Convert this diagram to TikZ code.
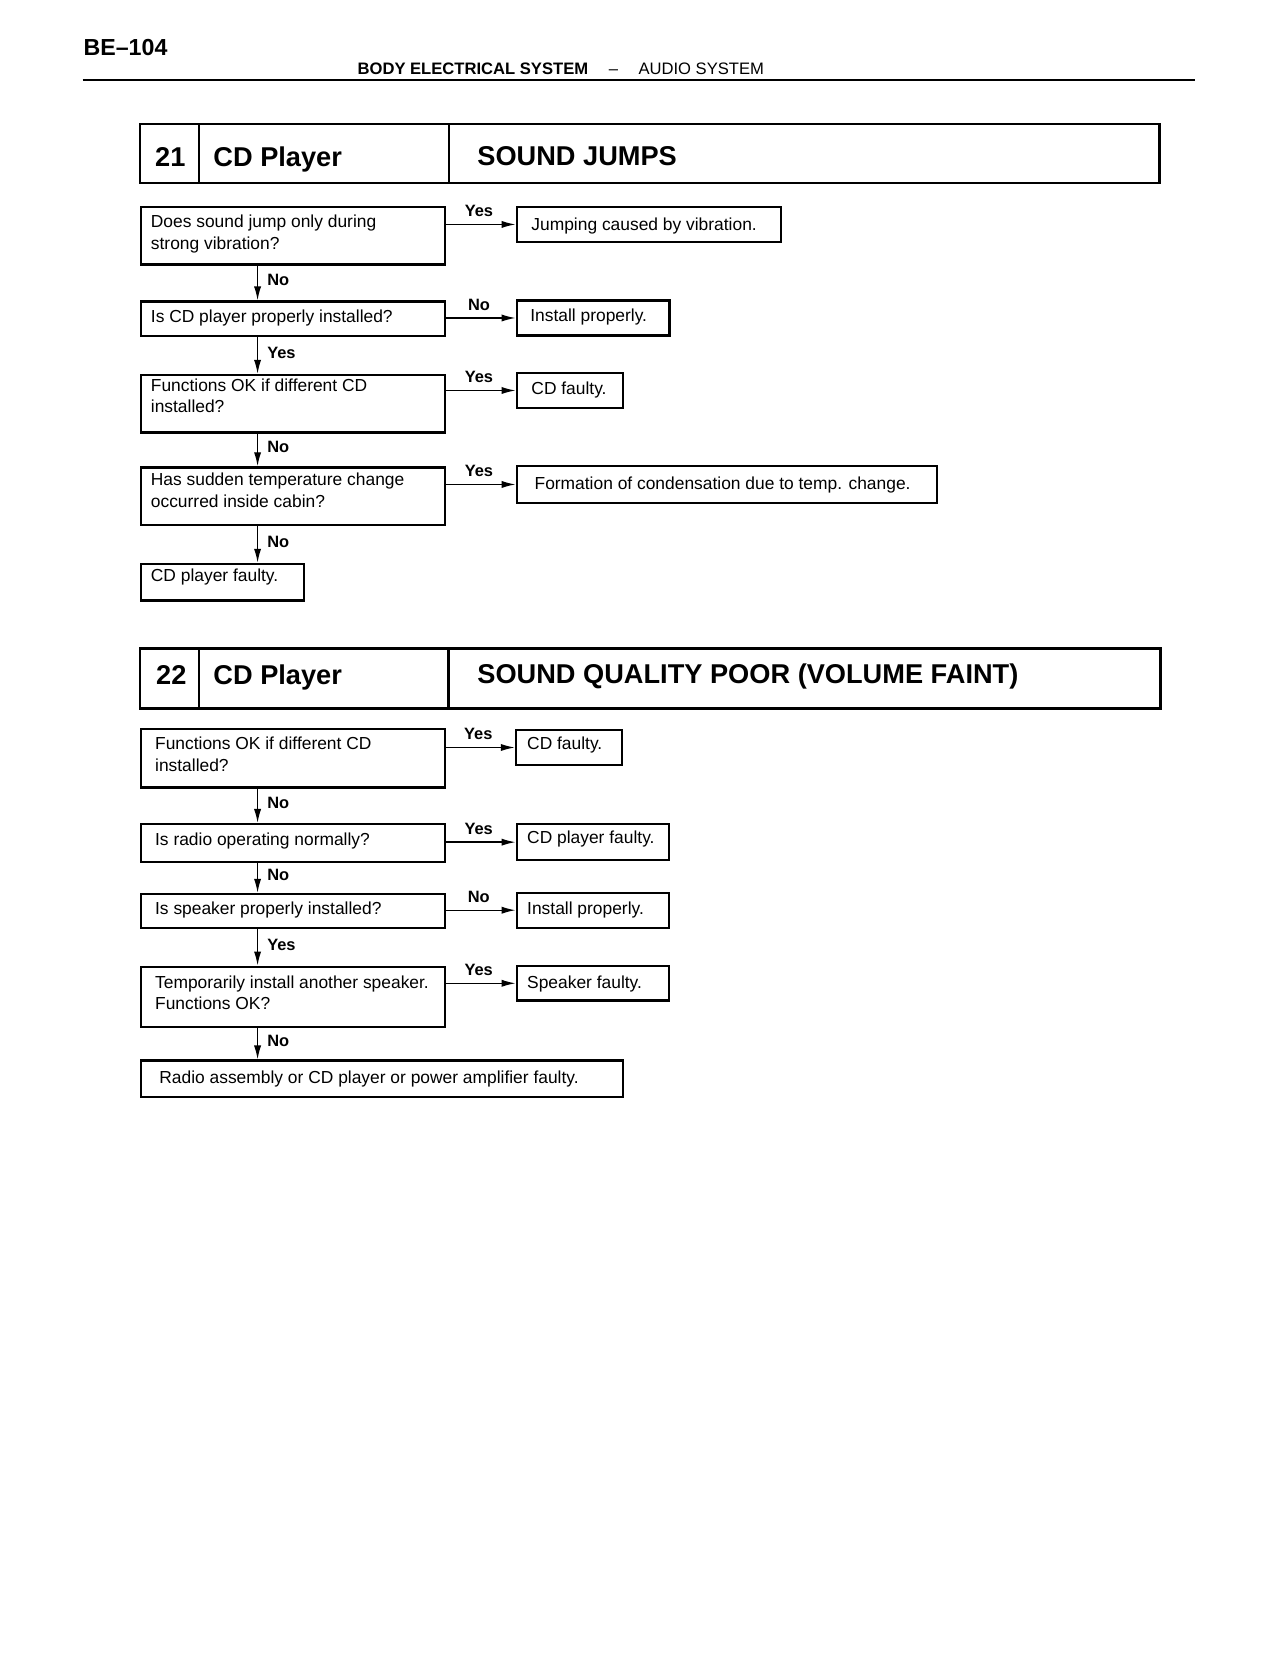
\documentclass[tikz,border=0pt]{standalone}
\usepackage{fontspec}
\setmainfont{Liberation Sans}
\usetikzlibrary{arrows.meta,fit}
\begin{document}
\begin{tikzpicture}[x=0.53pt,y=-0.53pt,
  box/.style={draw, line width=1.15pt, inner sep=0pt},
  tbox/.style={draw, line width=1.25pt, inner sep=0pt},
  txt/.style={font=\fontsize{8.7}{11}\selectfont, inner sep=0pt, anchor=base west},
  ttl/.style={font=\bfseries\fontsize{13.6}{16}\selectfont, inner sep=0pt, anchor=base west},
  hdr/.style={font=\fontsize{8.3}{10}\selectfont, inner sep=0pt, anchor=base west},
  lbl/.style={font=\bfseries\fontsize{8.2}{10}\selectfont, inner sep=1.5pt},
  arr/.style={line width=0.7pt, -{Latex[length=7pt,width=3.6pt]}},
  vlbl/.style={lbl, midway, right, xshift=3pt, yshift=1.5pt},
  hlbl/.style={lbl, midway, above, yshift=2pt, xshift=-1pt},
]
\useasboundingbox (0,0) rectangle (1207.5,1562.3);
% header
\node[font=\bfseries\fontsize{11.6}{14}\selectfont, inner sep=0pt, anchor=base west] (pg) at (78.5,52.8) {BE–104};
\node[hdr, font=\bfseries\fontsize{8.3}{10}\selectfont] (sys) at (337,70.5) {BODY ELECTRICAL SYSTEM};
\node[hdr] (dsh) at (574,70.5) {–};
\node[hdr] (sub) at (602,70.5) {AUDIO SYSTEM};
\coordinate (hl) at (78,75.5);
\coordinate (hr) at (1127,75.5);
\draw[line width=1pt] (hl) -- (hr);

% ===== 21 =====
\node[tbox, fit={(132,117) (1094,172.5)}] (t21) {};
\draw[line width=1.2pt] (188,117) -- (188,172.5);
\draw[line width=1.2pt] (423.5,117) -- (423.5,172.5);
\node[ttl] (t21n) at (146,157.5) {21};
\node[ttl] (t21a) at (201,157.2) {CD Player};
\node[ttl] (t21b) at (450,155.7) {SOUND JUMPS};

\coordinate (colA) at (243,0);

\node[box, fit={(133,195.5) (420,249.5)}] (a1) {};
\node[txt] at (142,214.4) {Does sound jump only during};
\node[txt] at (142,235.3) {strong vibration?};
\node[box, fit={(487.5,195) (737,228.5)}] (ra1) {};
\node[txt] at (501,217) {Jumping caused by vibration.};

\node[box, fit={(133,284.5) (420,317)}] (a2) {};
\node[txt] at (142,304.4) {Is CD player properly installed?};
\node[box, fit={(487.5,283.5) (631.5,316.5)}] (ra2) {};
\node[txt] at (500,303.5) {Install properly.};

\node[box, fit={(133,353.8) (420,408)}] (a3) {};
\node[txt] at (142,368.9) {Functions OK if different CD};
\node[txt] at (142,389.3) {installed?};
\node[box, fit={(487.5,351.6) (587.5,385.2)}] (ra3) {};
\node[txt] at (501,372.6) {CD faulty.};

\node[box, fit={(133,441) (420,495.5)}] (a4) {};
\node[txt] at (142,458.2) {Has sudden temperature change};
\node[txt] at (142,478.6) {occurred inside cabin?};
\node[box, fit={(487.5,439.6) (884,474.5)}] (ra4) {};
\node[txt] at (504,461.6) {Formation of condensation due to temp. change.};

\node[box, fit={(133,532) (286.5,566.5)}] (a5) {};
\node[txt] at (142,548.8) {CD player faulty.};

\draw[arr] (a1.east |- ra1.west) -- node[hlbl]{Yes} (ra1.west);
\draw[arr] (a2.east |- ra2.west) -- node[hlbl]{No} (ra2.west);
\draw[arr] (a3.east |- ra3.west) -- node[hlbl]{Yes} (ra3.west);
\draw[arr] (a4.east |- ra4.west) -- node[hlbl]{Yes} (ra4.west);
\draw[arr] (a1.south -| colA) -- node[vlbl]{No} (a2.north -| colA);
\draw[arr] (a2.south -| colA) -- node[vlbl]{Yes} (a3.north -| colA);
\draw[arr] (a3.south -| colA) -- node[vlbl]{No} (a4.north -| colA);
\draw[arr] (a4.south -| colA) -- node[vlbl]{No} (a5.north -| colA);

% ===== 22 =====
\node[tbox, fit={(132,611.6) (1095,668.2)}] (t22) {};
\draw[line width=1.2pt] (187.7,611.6) -- (187.7,668.2);
\draw[line width=1.2pt] (423,611.6) -- (423,668.2);
\node[ttl] (t22n) at (147,646) {22};
\node[ttl] (t22a) at (201,646) {CD Player};
\node[ttl] (t22b) at (450,644.6) {SOUND QUALITY POOR (VOLUME FAINT)};

\node[box, fit={(133,688) (419.5,742.8)}] (b1) {};
\node[txt] at (146,707.5) {Functions OK if different CD};
\node[txt] at (146,728) {installed?};
\node[box, fit={(486.8,688.7) (586.5,721.7)}] (rb1) {};
\node[txt] at (497,707) {CD faulty.};

\node[box, fit={(133,777.5) (419.5,813)}] (b2) {};
\node[txt] at (146,797.2) {Is radio operating normally?};
\node[box, fit={(487.5,777.7) (631.4,811.3)}] (rb2) {};
\node[txt] at (497,796) {CD player faulty.};

\node[box, fit={(133,843.4) (419.5,875.8)}] (b3) {};
\node[txt] at (146,863.2) {Is speaker properly installed?};
\node[box, fit={(487.5,842.2) (631.4,875.2)}] (rb3) {};
\node[txt] at (497,863.2) {Install properly.};

\node[box, fit={(133,912) (419.5,969)}] (b4) {};
\node[txt] at (146,932.4) {Temporarily install another speaker.};
\node[txt] at (146,952.8) {Functions OK?};
\node[box, fit={(487.5,911.3) (631.4,944)}] (rb4) {};
\node[txt] at (497,932.4) {Speaker faulty.};

\node[box, fit={(133,1000.6) (588,1035)}] (b5) {};
\node[txt] at (150,1022) {Radio assembly or CD player or power amplifier faulty.};

\draw[arr] (b1.east |- rb1.west) -- node[hlbl]{Yes} (rb1.west);
\draw[arr] (b2.east |- rb2.west) -- node[hlbl]{Yes} (rb2.west);
\draw[arr] (b3.east |- rb3.west) -- node[hlbl]{No} (rb3.west);
\draw[arr] (b4.east |- rb4.west) -- node[hlbl]{Yes} (rb4.west);
\draw[arr] (b1.south -| colA) -- node[vlbl]{No} (b2.north -| colA);
\draw[arr] (b2.south -| colA) -- node[vlbl]{No} (b3.north -| colA);
\draw[arr] (b3.south -| colA) -- node[vlbl]{Yes} (b4.north -| colA);
\draw[arr] (b4.south -| colA) -- node[vlbl]{No} (b5.north -| colA);
\end{tikzpicture}
\end{document}
